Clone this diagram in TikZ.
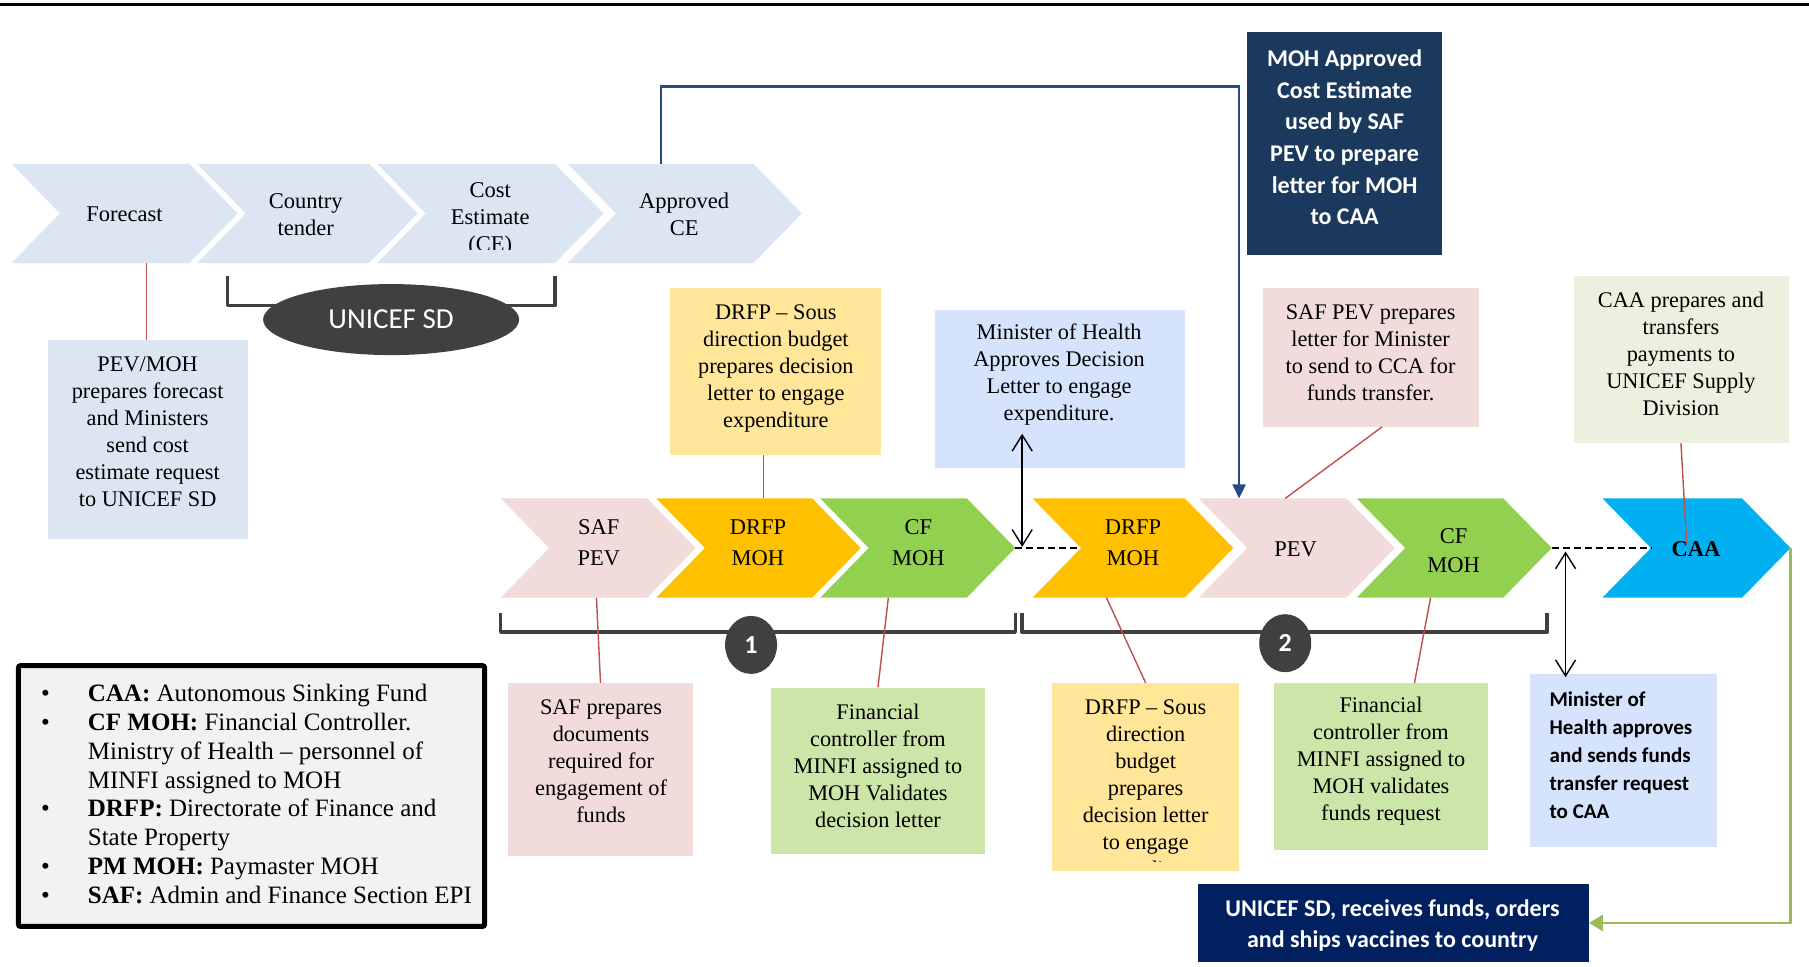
\documentclass[tikz,border=0pt]{standalone}
\usepackage{fontspec}
\setmainfont{Liberation Serif}
\newfontfamily\calib{Carlito}
\usetikzlibrary{fit,arrows.meta,shapes.geometric}
\definecolor{topbl}{RGB}{220,230,242}
\definecolor{pinkc}{RGB}{242,220,219}
\definecolor{orng}{RGB}{255,192,0}
\definecolor{grn}{RGB}{146,208,80}
\definecolor{cyanc}{RGB}{0,176,240}
\definecolor{ylw}{RGB}{255,230,153}
\definecolor{lblue}{RGB}{214,227,252}
\definecolor{lgrn}{RGB}{203,230,168}
\definecolor{sage}{RGB}{235,241,222}
\definecolor{navyA}{RGB}{27,56,93}
\definecolor{navyB}{RGB}{0,32,96}
\definecolor{dgray}{RGB}{64,64,64}
\definecolor{bluec}{RGB}{38,74,130}
\definecolor{grnc}{RGB}{155,187,89}
\definecolor{redl}{RGB}{192,80,77}
\definecolor{legbg}{RGB}{242,242,242}
\newcommand\chev[5]{\fill[#5] (#1,#3) -- (#2,#3) -- ({#2+42},{(#3+#4)/2}) -- (#2,#4) -- (#1,#4) -- ({#1+42},{(#3+#4)/2}) -- cycle;}
\newcommand\lbul{\makebox[0pt][r]{\textbullet\hspace{38pt}}}
\tikzset{
 lab/.style={inner sep=0pt, align=center, font=\fontsize{22.5}{27}\selectfont},
 lab2/.style={inner sep=0pt, align=center, font=\fontsize{22.5}{31}\selectfont},
 boxtxt/.style={inner sep=0pt, align=center, font=\fontsize{22.3}{27}\selectfont},
 panel/.style={inner sep=0pt, draw=none},
 redln/.style={draw=redl, line width=1.4pt},
 brk/.style={draw=dgray, line width=3.5pt, line join=round},
 dashln/.style={draw=black, line width=1.6pt, dash pattern=on 7pt off 4pt},
 dbl/.style={draw=black, line width=1.4pt, {Straight Barb[length=16pt,width=20pt]}-{Straight Barb[length=16pt,width=20pt]}},
 badge/.style={ellipse, fill=dgray, inner sep=0pt, text=white, minimum width=52pt, minimum height=58pt, font=\calib\bfseries\fontsize{26}{26}\selectfont},
}
\begin{document}
\begin{tikzpicture}[x=1.1537pt,y=-1.1537pt]
\useasboundingbox (0,0) rectangle (1568,838);
\fill[white] (0,0) rectangle (1568,838);
\draw[line width=3pt] (0,4) -- (1568,4);

% top chevrons
\chev{10}{164}{142}{228}{topbl}
\chev{171}{320}{142}{228}{topbl}
\chev{327}{481}{142}{228}{topbl}
\chev{492}{653}{142}{228}{topbl}
\node[lab] (forecast) at (108,186) {Forecast};
\node[lab] (ctender) at (265,186) {Country\\tender};
\begin{scope}
\clip (327,142) rectangle (530,216);
\node[lab] (costest) at (425,190) {Cost\\Estimate\\(CE)};
\end{scope}
\node[lab] (appce) at (593,186) {Approved\\CE};
\coordinate (forecast-bot) at (127,228);
\coordinate (appce-top) at (573,142);

% UNICEF SD bracket
\draw[brk] (197,239) -- (197,265) -- (481,265) -- (481,239);
\node[ellipse, fill=dgray, minimum width=256pt, minimum height=71pt, inner sep=0pt, text=white, font=\calib\fontsize{29}{29}\selectfont] (unicefsd) at (339,277) {UNICEF SD};

% PEV/MOH box
\node[panel, fill=topbl, fit={(42,295) (215,467)}] (b-pevmoh) {};
\node[boxtxt] (t-pevmoh) at (128,374) {PEV/MOH\\prepares forecast\\and Ministers\\send cost\\estimate request\\to UNICEF SD};
\draw[redln] (forecast-bot) -- (forecast-bot |- b-pevmoh.north);

% MOH approved box
\node[panel, fill=navyA, fit={(1081,28) (1250,221)}] (b-mohappr) {};
\node[inner sep=0pt, align=center, text=white, font=\calib\bfseries\fontsize{24}{31.6}\selectfont] (t-mohappr) at (1165.5,119) {MOH Approved\\Cost Estimate\\used by SAF\\PEV to prepare\\letter for MOH\\to CAA};

% top callouts
\node[panel, fill=ylw, fit={(581,250) (764,394)}] (b-drfpA) {};
\node[boxtxt] (t-drfpA) at (672.5,319) {DRFP -- Sous\\direction budget\\prepares decision\\letter to engage\\expenditure};
\node[panel, fill=lblue, fit={(810,269) (1027,406)}] (b-minA) {};
\node[boxtxt] (t-minA) at (918,325) {Minister of Health\\Approves Decision\\Letter to engage\\expenditure.};
\node[panel, fill=pinkc, fit={(1095,250) (1282,370)}] (b-safprep) {};
\node[boxtxt] (t-safprep) at (1188,305.5) {SAF PEV prepares\\letter for Minister\\to send to CCA for\\funds transfer.};
\node[panel, fill=sage, fit={(1364,239) (1551,384)}] (b-caaprep) {};
\node[boxtxt] (t-caaprep) at (1457,307) {CAA prepares and\\transfers\\payments to\\UNICEF Supply\\Division};

% second row chevrons
\chev{434}{561}{432}{518}{pinkc}
\chev{569}{704}{432}{518}{orng}
\chev{711}{838}{432}{518}{grn}
\chev{895}{1027}{432}{518}{orng}
\chev{1039}{1167}{432}{518}{pinkc}
\chev{1176}{1303}{432}{518}{grn}
\chev{1389}{1510}{432}{518}{cyanc}
\node[lab2] (safpev) at (519,470.5) {SAF\\PEV};
\node[lab2] (drfp1) at (657,470.5) {DRFP\\MOH};
\node[lab2] (cf1) at (796,470.5) {CF\\MOH};
\node[lab2] (drfp2) at (982,470.5) {DRFP\\MOH};
\node[lab] (pev) at (1123,476) {PEV};
\node[inner sep=0pt, align=center, font=\fontsize{22.5}{29}\selectfont] (cf2) at (1260,477.5) {CF\\MOH};
\node[inner sep=0pt, font=\bfseries\fontsize{22.5}{27}\selectfont] (caa) at (1470,476) {CAA};

\coordinate (cf1-tip) at (880,475);
\coordinate (drfp2-notch) at (937,475);
\coordinate (cf2-tip) at (1345,475);
\coordinate (caa-notch) at (1431,475);
\coordinate (caa-tip) at (1552,475);
\coordinate (drfp1-top) at (662,432);
\coordinate (pev-top) at (1074,432);
\coordinate (pev-topr) at (1114,432);
\coordinate (caa-in) at (1462,472);
\coordinate (safpev-bot) at (517,518);
\coordinate (cf1-bot) at (770,518);
\coordinate (drfp2-bot) at (959,518);
\coordinate (cf2-bot) at (1240,518);
\coordinate (da1-top) at (886,376);
\coordinate (da1-bot) at (886,474);
\coordinate (da2-top) at (1357,478);
\coordinate (da2-bot) at (1357,587);
\coordinate (safprep-out) at (1198,370);
\coordinate (caaprep-out) at (1457,384);
\coordinate (fc2-in) at (1226,592);

% blue connector
\draw[draw=bluec, line width=2.3pt, -{Triangle[length=14pt,width=13pt]}] (appce-top) -- ++(0,-67) -| (pev-top);

% dashed links
\draw[dashln] (cf1-tip) -- (drfp2-notch);
\draw[dashln] (cf2-tip) -- (caa-notch);

% brackets with numbers
\draw[brk] (434,531) -- (434,548) -- (880,548) -- (880,531);
\draw[brk] (886,531) -- (886,548) -- (1341,548) -- (1341,531);
\node[badge] (num1) at (651,559) {1};
\node[badge] (num2) at (1114,557.5) {2};

% bottom boxes
\node[panel, fill=pinkc, fit={(440,592) (601,742)}] (b-safdoc) {};
\node[boxtxt] (t-safdoc) at (521,660) {SAF prepares\\documents\\required for\\engagement of\\funds};
\node[panel, fill=lgrn, fit={(668,596) (854,740)}] (b-fc1) {};
\node[boxtxt] (t-fc1) at (761,664) {Financial\\controller from\\MINFI assigned to\\MOH Validates\\decision letter};
\node[panel, fill=ylw, fit={(912,592) (1074,755)}] (b-drfpB) {};
\begin{scope}
\clip (912,592) rectangle (1074,747);
\node[boxtxt] (t-drfpB) at (993,685) {DRFP -- Sous\\direction\\budget\\prepares\\decision letter\\to engage\\expenditure};
\end{scope}
\node[panel, fill=lgrn, fit={(1104,592) (1290,737)}] (b-fc2) {};
\node[boxtxt] (t-fc2) at (1197,660) {Financial\\controller from\\MINFI assigned to\\MOH validates\\funds request};
\node[panel, fill=lblue, fit={(1326,584) (1488,734)}] (b-minB) {};
\node[anchor=west, inner sep=0pt, align=left, font=\calib\bfseries\fontsize{21}{28}\selectfont] (t-minB) at (1343,654.5) {Minister of\\Health approves\\and sends funds\\transfer request\\to CAA};
\node[panel, fill=navyB, fit={(1038,766) (1377,834)}] (b-unirec) {};
\node[inner sep=0pt, align=center, text=white, font=\calib\bfseries\fontsize{24}{31}\selectfont] (t-unirec) at (1207,802) {UNICEF SD, receives funds, orders\\and ships vaccines to country};

% red callout lines
\draw[redln] (drfp1-top |- b-drfpA.south) -- (drfp1-top);
\draw[redln] (safprep-out) -- (pev-topr);
\draw[redln] (caaprep-out) -- (caa-in);
\draw[redln] (safpev-bot) -- (b-safdoc.north);
\draw[redln] (cf1-bot) -- (b-fc1.north);
\draw[redln] (drfp2-bot) -- (b-drfpB.north);
\draw[redln] (cf2-bot) -- (fc2-in);

% double arrows
\draw[dbl] (da1-top) -- (da1-bot);
\draw[dbl] (da2-top) -- (da2-bot);

% green connector
\draw[draw=grnc, line width=2.3pt, -{Triangle[length=14pt,width=16pt]}] (caa-tip) |- (b-unirec.east);

% legend
\node[fit={(16,577) (420,803)}, inner sep=0pt, draw=black, line width=5pt, fill=legbg, rounded corners=2pt] (legend) {};
\node[anchor=north west, inner sep=0pt, align=left, font=\fontsize{25}{28.8}\selectfont] (legtext) at (76,593) {\lbul\textbf{CAA:} Autonomous Sinking Fund\\\lbul\textbf{CF MOH:} Financial Controller.\\Ministry of Health -- personnel of\\MINFI assigned to MOH\\\lbul\textbf{DRFP:} Directorate of Finance and\\State Property\\\lbul\textbf{PM MOH:} Paymaster MOH\\\lbul\textbf{SAF:} Admin and Finance Section EPI};
\end{tikzpicture}
\end{document}
